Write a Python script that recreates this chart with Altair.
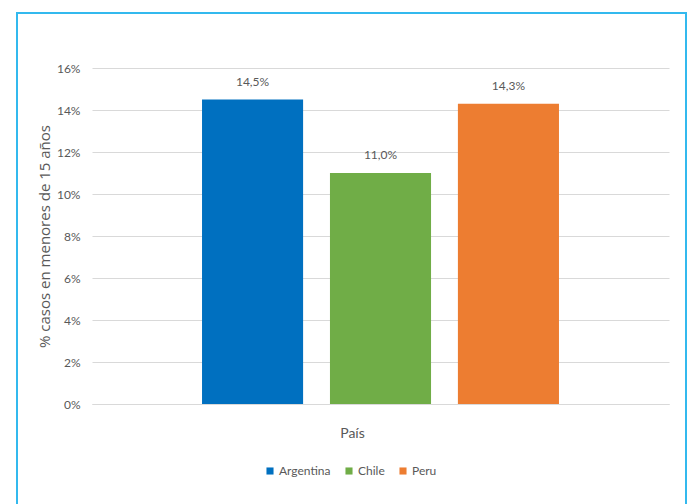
import altair as alt
import pandas as pd

paises = ["Argentina", "Chile", "Peru"]
valores = [0.145, 0.110, 0.143]
colores = ["#0070C0", "#70AD47", "#ED7D31"]

df = pd.DataFrame({"pais": paises, "valor": valores})

FONT = "Lato"
GREY = "#595959"

x_enc = alt.X(
    "pais:N",
    sort=paises,
    scale=alt.Scale(paddingInner=0.21, paddingOuter=0.86),
    axis=alt.Axis(
        title="País", labels=False, ticks=False, grid=False, domain=True, domainColor="#D9D9D9",
        titleFont=FONT, titleFontSize=14, titleFontWeight="normal", titleColor=GREY,
        titleX=260, titleY=22, titleAnchor="middle",
    ),
)

bars = alt.Chart(df).mark_bar().encode(
    x=x_enc,
    y=alt.Y(
        "valor:Q",
        scale=alt.Scale(domain=[0, 0.16], nice=False),
        axis=alt.Axis(
            title="% casos en menores de 15 años",
            format=".0%", values=[i / 100 for i in range(0, 17, 2)],
            ticks=False, domain=False, labelPadding=12,
            gridColor="#D9D9D9", gridWidth=1,
            labelFont=FONT, labelFontSize=12, labelColor=GREY,
            titleFont="Open Sans", titleFontSize=15, titleFontWeight="normal", titleColor=GREY,
            titlePadding=4,
        ),
    ),
    color=alt.Color(
        "pais:N", sort=paises,
        scale=alt.Scale(domain=paises, range=colores),
        legend=alt.Legend(
            title=None, orient="none", direction="horizontal",
            legendX=172, legendY=397, symbolType="square", symbolSize=50,
            symbolStrokeWidth=0, labelFont=FONT, labelFontSize=12, labelColor=GREY,
            columnPadding=12, labelOffset=3,
        ),
    ),
)

labels = alt.Chart(df).transform_calculate(
    etiqueta="replace(format(datum.valor, '.1%'), '.', ',')"
).mark_text(baseline="alphabetic", dy=-14, font=FONT, fontSize=12, color=GREY).encode(
    x=alt.X("pais:N", sort=paises),
    y="valor:Q",
    text="etiqueta:N",
)

border = alt.Chart(df).mark_rect(fill=None, stroke="#33B9EE", strokeWidth=2).encode(
    x=alt.value(-75), x2=alt.value(594), y=alt.value(-55), y2=alt.value(460)
)

chart = alt.layer(bars, labels, border).properties(
    width=577, height=336,
    padding={"left": 92, "top": 68, "right": 20, "bottom": 100},
    autosize=alt.AutoSizeParams(type="none"),
    background="white",
).configure_view(strokeWidth=0, stroke="transparent")

chart.save("out.html", embed_options={"renderer": "svg", "actions": False})
